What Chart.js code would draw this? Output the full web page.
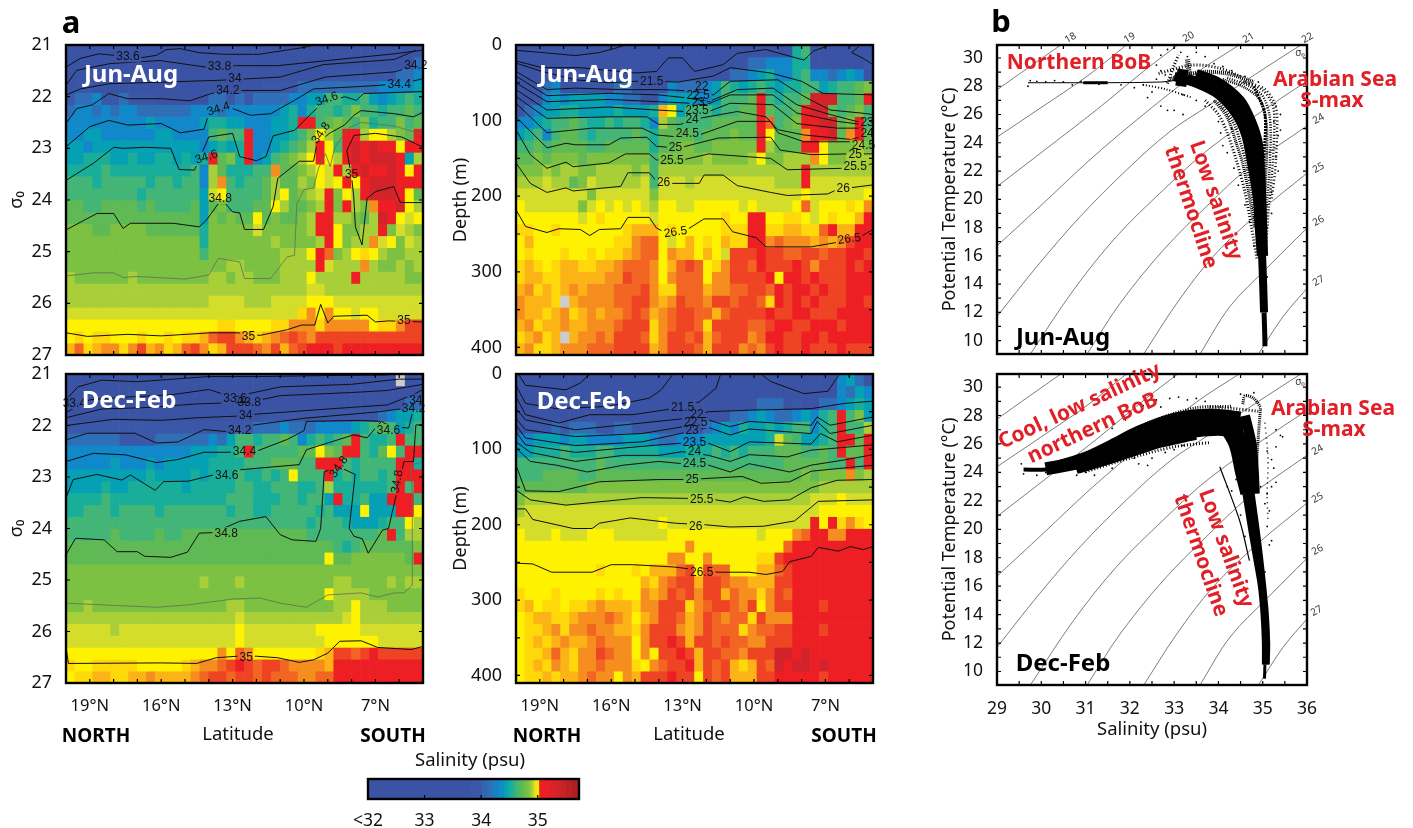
<!DOCTYPE html>
<html>
<head>
<meta charset="utf-8">
<title>Salinity sections</title>
<script src="https://cdn.jsdelivr.net/npm/chart.js@4/dist/chart.umd.min.js"></script>
<style>
  body { margin: 0; background: #fff; font-family: "Noto Sans", sans-serif; overflow: hidden; }
  canvas { position: absolute; }
  .note { position: absolute; white-space: nowrap; transform: translate(-50%, -50%); line-height: 1; }
</style>
</head>
<body>
<script>
// salinity level of each letter used in the section rows, x = no data
const levelCodes = { a: 33.0, b: 33.9, c: 34.1, d: 34.25, e: 34.4, f: 34.5, g: 34.6, h: 34.7, i: 34.8, j: 34.87,
  k: 34.92, l: 34.96, m: 35.0, n: 35.03, o: 35.06, p: 35.1, q: 35.14, r: 35.2, s: 35.35, x: null };

const sigmaJunRows = [
  "aaaaaaaaaa aaaaaaaaaa aaaaaaaaaa aaaaaaaaaa",
  "aaaaaaaaaa aaaaaaaaaa aaaaaaaaaa aaaaaaaaac",
  "aaaaaaaaaa aaaaaaaaaa aaaaaaaaab bbbbbbbccd",
  "abbaaaaaaa aaaaaaaaaa aabbbbcccc cccccdddde",
  "bccdbbcbbb aaaaaaccbc bccccddeeg gffgedefgf",
  "cddcdcddcc ccccdddcdd ddddefdfgg fgiggfgghg",
  "ddddddddde dddddeffee dddeefrrgh ihgifggigh",
  "ddeedddddd eeddddghgg rddeefgilj hrrjlljihr",
  "eedeeeeeee eeeeedefef rddefghjrl grsrsrrlrr",
  "eefffeefee ffefefrhif rdeghijlrl jrsrsssrej",
  "ffffgfffff ffffgdjhff fggohhijlk rjrsrrsrlr",
  "gggfgggggf ggfggdjogf gghjhhjilk lrlrsssrrr",
  "ggggggggfg gggggeklgg gghjlhijkr iljrsssrlh",
  "hhgghhhhgh gggghehigg ghhljhhijr irjiorrslj",
  "hhhhhhhhhh hhhhheihih hlhihhijrr jjihjsrlkl",
  "iiihhiiiih hhhhhfiiii ikiiiiijrr liijjrikji",
  "iiiiiiiiii iiiiifiiii iiijiiiijr lijjoklikj",
  "iiiiiiiiii iiiiigiiii iiiijjjlrp ijlmljiijj",
  "iiiiiiiiii iiiiiiiijj iiiijjjjrk jjjojiijij",
  "jiiiiiijii iiiiiijjij jiiijjjljj jjrjjjjjii",
  "jjjjjjjjjj jjjjjjjjjj jjjjjjjkkj jjjjjjjjjj",
  "jjjjjjjjjj jjjjjjkkkk jjjkkkklll kkkkkkkkkk",
  "kkkkkkkkkk kkkkkkkkkk kkkkkkmolo llkllkkkkk",
  "llllllllll lllllllmml lllmmooomo oooolmmoqq",
  "lmlmmlllml lmlmmnpqqo nmnopqpoqq qqqqqqqqqq",
  "npmnoomoqn omnpqomnqq qpoqnpqrrr qrrrrrrrrr"
];
const depthJunRows = [
  "aaaaaaaaaa aaaaaaaaaa aaaaaaaaaa afgaaaaaaa",
  "aaaaaaaaaa aaaaaaaaaa aaaaaaccdd dffaaaaaab",
  "aaaaaaaaaa aaaaaaaaaa aaaaccdefd dfgddcdeda",
  "aaacdaabbb bccaaaadcc cdegfefgfe ffggefgghi",
  "aabdedeeee ddccaadeee ddeggghrgf gghsssgghr",
  "acdeeffeee efeeefnleg ggfgghhrhg ghrsshghig",
  "ddefgghgff gfggfdjhgg gghhhhhrpg hirrsshirg",
  "efgdghhgfg ggghgfhhhh ghhhihhrlh hhorrshorh",
  "gghghhhhgg hhhhhfhhii hhiiiiirjh hhrrliiiji",
  "hhihiiihii iiiiigiiii ijiiiijlii jjjoliijjj",
  "iiijijjiij jjjijgjjjj jjjjjjjjjj jjrjjjjjjj",
  "jjjkjjhikj jjjjkgkkkj kkkkkkkkkj jjrkkkkkkk",
  "kkkkkkkkik kkkkkikkkk kkkkkkkkkk kklkkkkkkl",
  "lkkkkkkikl klklkjllkk lllllklkkk klpklllmlo",
  "lllllllklm lllllkllll lllmllrrll mmlklmllnr",
  "mmllmlllll llmnnnlmll lllmmmrrmm nnmmprnnrr",
  "lnllllllll lmmopplkln lmlnmmrrop ooononoqrr",
  "lmlllmllml mmnopplonn lnlkqqqrqq ppqqpqqrrq",
  "mnmlmnnmmn nopppolnpq plmoqqprqq qrqoqqqrqr",
  "mnnmmnnnnn ooqppolopp plooqqqqrl rrqrqqqrrr",
  "nomnmnonoo opppqommpp pnooppqqpr qrrqrqqrrr",
  "onnnmxnooo oppqqonoqp poqqpqqpmr qrqrqqqrrq",
  "onnmnomnon oopqpnopqq ppnpqqqqrq qrrqqqrrrr",
  "nomnnonnoo opqqqmopqq pmqqqqppqr rqqrrrqrrr",
  "mnomnxnoop oqqqpmoqqp qnpqqqoprr qqrrqrrrrr",
  "nommnooopp pqqqqnoqqq pnqqqopoqr qqrqqqrqqq"
];
const sigmaDecRows = [
  "aaaaaaaaaa aaaaaaaaaa aaaaaaaaaa aaaaaaaxaa",
  "aaaaaaaaaa aaaaaaaaaa aaaaaaaaaa aaaaaaaaaa",
  "aaaaaaaaaa aaaaaaaaaa aaaaaaaaaa aaaaaaaacc",
  "aaaaaaaaaa aaaaaaaaaa aabbbbbbbb bbbbbcdeef",
  "bbbbbbbbbb bbbbbbbbbb bcccdcccdd ddefghgefg",
  "ccccccbbbb ccccccdceg gfgghgdfgf ghrgffgrgg",
  "dddddddddd ddddeeeffg rggggghhli hrrgfhlgrr",
  "dddddeddde deeeeeffff ggghhhggrr rgfggggrrf",
  "eeeeeeeeef eeeefefffg ffgfglgggr fgfggfgrrr",
  "eeeefeefff fffefffffg gffgggffgj ffffffgrgr",
  "ffffgfffff ffffffffgg gfffggfgge rffgeerrrg",
  "ffgggfgggg fgggggggfg gffgggggfg eeeleeerrl",
  "gggggggggg gggggggggg gggggggfgg gfeeefgglj",
  "ggggghgggg hgghhhhhhh hhhhhhhggg ggggghrgjj",
  "hhhhhhhhhh hhhhhhhhhh hhhhhhhhhh gfghhhhhhi",
  "hhhhhhhhhh hhhhhhhhhh hhhhhhhhhl hhiiiiiihr",
  "iiiiiiiiii iiiiiiiiii iiiiiiiiii iiiiiiiiii",
  "iiiiiiiiii iiiiijiiij iiiiiiiiii jjiiiijijj",
  "iiiiiiiiii iiiiiiiiii iiiiiiiiil jjjjiiiiii",
  "iijiiiiiii iiiiiiiijj iiiiiiiiii jjljjjiiii",
  "jjjjjjjjjj jjjjjjjjjk jjjjjjjjjj jkljjjjjjj",
  "kkkkkjkkkk kkkkkkkkkl kkkkkkkkll lllkkkkkkk",
  "kkkkkkkkkk kkkkkkkkkl kkkkkkkkkl lllllkkkkk",
  "llllllllll lllllllolp olllllllmn qqpqrqqqqq",
  "mllmmmmmll lllmnoopqr qpqqpoooon rrrrrrrrrr",
  "lmmnnmmnno nnnnopqqpq qpqpppoopp rrrrrrrrrr"
];
const depthDecRows = [
  "aaaaaaaaaa aaaaaaaaaa aaaaaaaaaa aaaaaadeca",
  "aaaaaaaaaa aaaaaaaaaa aaaaaaaaaa aaaaaadced",
  "aaaaaaaaaa aaaaaaaaaa aaaaaaaccc abaaccdefe",
  "aaaaaaaaaa aaaaaaaaaa aaaaccdedc cdedfgrgie",
  "abbbcbcccb bccbbbbbbb bcdedfeefe fggdfgrggj",
  "ddeeedeedd ddeeedccdd deeeeeeefk hgeefgrrhr",
  "eefffgfffg gfffffeeef ffgfgfgggh hhgghgrhhr",
  "gggggggggh gggggggggg gggggggggg hhhhhggrgr",
  "ggghhhhggh hhhhhhhhhh hhhhhhhhhh hhihiiioij",
  "hhhhhhhhii iiiiiiiiii iiiiiiiiii iiiijjjjjj",
  "ijjjjjjjjj jjjjjjjjjj jjjjjjjjjj jjjkkklkkk",
  "jkkkkkkkkk kkkkkkkkkk kkkkkkkkkk kkkkllllll",
  "kkkkkkkkkk kkkkkklkkk kkkkkkkkkk kkkrlrmoml",
  "lkkklkkkll lkkkkkklll lllllllkll loprroorrr",
  "llllllllll lllllllllo llllllllll prrrrrrrrr",
  "llllllllll lllllllool lolllllmmq rrrrrrrrrr",
  "lllllllllm lllmlnnnpq lqpplllnnp qrrrrrrrrr",
  "llllllllll llllnmopqq nqqpoonnnq qrrrrrrrrr",
  "mlllmllllm lmllonoqpq oqqnpoomoq prrrrrrrrr",
  "mnlmmlmmno nnnmooqqqm opqqpoqloq qrrrqrrrrr",
  "lmnnmmnooo ponlnoqqpn oqpoppmqoo orrrrrrrrr",
  "lmmnomoopo onnmoqqqon oqpppmoppq qrrrqrrrrr",
  "lmnmnonnop oooloqqrqn qqpqppooqq qrrrrrrrrr",
  "lmmnpnmooq poololqqrq nqqppoqqqs srsrrrrrrr",
  "lmnmonmoop ooomlopqqr nqpqnmnqps rssrsrrrrr",
  "lmmnmnnopo olonqqqrqq lqpqnnnqqr rrrrqrrrrr"
];

// contours: latitude, sigma-0 or depth
const sigmaJunContours = [
  [[20,21.43],[19.4,21.26],[18.6,21.17],[18,21.2],[16.9,21.25],[16.2,21.2],[15.8,21.09],[15.2,21.07],[14.4,21.15],[13.3,21.18],[11.9,21.18],[9.9,21.04],[9.6,21]],
  [[20,21.78],[19.55,21.49],[18.15,21.36],[16.05,21.3],[14.1,21.43],[12.9,21.4],[11.1,21.4],[9,21.3],[6.2,21.17],[5,21.1]],
  [[20,21.97],[19.4,21.85],[18.2,21.75],[16,21.72],[13.4,21.68],[11,21.62],[9.2,21.38],[6.2,21.28],[5.3,21.1]],
  [[20,22.52],[19.55,22.23],[18.9,22.16],[18.2,21.94],[17.4,22.04],[16,22.04],[14.8,22.08],[13.9,21.94],[13.1,21.88],[11,21.88],[9.1,21.62],[6.2,21.52],[5,21.36]],
  [[20,22.97],[19,22.58],[18.2,22.46],[17.4,22.55],[16,22.52],[15.2,22.7],[14.2,22.63],[14,22.33],[13,22.23],[12.25,22.36],[11.4,22.33],[10.4,22.07],[9.6,21.85],[7.9,21.81],[6.8,21.78],[5.6,21.72],[5,21.65]],
  [[20,23.62],[18.85,23.29],[18,22.98],[17.6,23],[16.7,22.98],[15.6,23],[15.25,23.41],[14.6,23.42],[14,22.78],[13,22.71],[12.7,23.16],[12,23.24],[11.6,23.16],[11.3,22.76],[10.4,22.65],[9.7,22.33],[9.4,22.2],[8.3,22],[7.8,22.07],[7.5,21.94],[5,21.9]],
  [[20,24.58],[18.7,24.26],[18,24.26],[17.6,24.55],[17.3,24.45],[15.5,24.45],[14.4,24.52],[14.1,24.39],[13.6,24.07],[13.3,24.07],[13,24.23],[12.7,24.25],[12.5,24.57],[11.7,24.57],[11.3,24.13],[11.1,23.58],[10.2,23.25],[9.6,23.25],[9.45,22.9],[8.9,22.7],[8.3,22.55],[7.9,22.36],[7.6,22.27],[6.2,22.33],[5.4,22.39],[5,22.3]],
  [[5,22.98],[5.9,22.78],[7,22.71],[7.9,22.75],[8.2,23.04],[8,23.55],[7.91,23.94],[7.84,24.52],[7.56,24.87],[7.35,23.97],[7,23.84],[6.23,23.74],[5.95,24.05],[5,24.05]],
  [[20,26.57],[19.1,26.64],[17.4,26.6],[16,26.63],[13.9,26.57],[12.8,26.57],[11.85,26.62],[10.7,26.51],[10.1,26.42],[9.55,26.42],[9.3,26.02],[9,26.38],[8.75,26.25],[7.35,26.23],[7,26.36],[6.45,26.34],[5,26.36]]
];
const sigmaJunFaint = [
  [[20,25.47],[18.85,25.41],[18,25.41],[17.6,25.5],[17,25.48],[15,25.53],[14,25.45],[13.6,25.13],[12.7,25.2],[12.5,25.52],[11.4,25.52],[10.7,25.1],[10.4,25.07],[10.3,24.07],[10,23.8],[9.6,23.77],[9.4,23.4],[9.1,23.1],[8.9,23.35],[8.7,22.97],[8.1,22.6],[7.6,22.5],[6.2,22.57],[5,22.73]]
];
const sigmaJunLabels = [["33.6",17.4,21.22],["33.8",13.55,21.41],["34",12.9,21.64],["34.2",13.2,21.88],["34.4",13.6,22.23,-18],["34.4",6,21.75],["34.2",5.3,21.39],["34.6",14.1,23.16,-18],["34.6",9.05,22.04,-18],["34.8",13.52,23.96],["34.8",9.3,22.7,-55],["35",8,23.5],["35",12.33,26.63],["35",5.8,26.33]];

const depthJunContours = [
  [[20,7],[18.9,10],[17.5,14],[16.5,10],[15.8,4],[15.4,0]],
  [[20,21],[18.9,30],[17.3,30],[15,37],[14.1,35],[13.6,17],[13,17],[12.5,35],[11.3,26],[10.7,11],[9.5,6],[7.9,20],[7.5,8],[6.8,0]],
  [[5.6,2],[5.9,10],[5.4,18],[5,26]],
  [[20,24],[18.9,35],[17.5,46],[16.1,50],[15,48],[14.05,48],[13.2,49],[11.7,41],[11,30],[9.3,37],[8,48],[7.1,64],[5,66]],
  [[20,35],[18.7,59],[17.5,57],[15.6,59],[13.8,59],[12.6,61],[11.7,66],[11,48],[9,46],[7.9,68],[6.8,86],[5.5,90],[5,92]],
  [[20,41],[18.7,67],[16.1,64],[14,66],[12.8,70],[11.9,75],[10.7,59],[9.2,57],[8.2,79],[6.8,92],[5.7,101],[5,101]],
  [[20,50],[18.7,75],[16.1,72],[14,75],[12.7,77],[12,79],[11,66],[9.2,66],[8.2,90],[6.5,101],[5.5,105],[5,105]],
  [[20,59],[18.7,86],[16.1,82],[14.1,86],[12.9,88],[11.9,88],[11,77],[9.2,79],[8.2,104],[6.5,110],[5.5,110],[5,112]],
  [[20,68],[18.7,97],[16.1,95],[14.5,95],[14,105],[13.1,105],[12.3,97],[10.7,88],[9.5,95],[9,112],[7.9,119],[5.9,125],[5.5,121],[5,121]],
  [[20,77],[18.7,116],[16.8,110],[14.7,110],[14.1,119],[13.4,121],[12.3,119],[10.7,101],[9.3,101],[9,116],[7.9,128],[5.95,128],[5,133]],
  [[20,95],[18.7,136],[17.9,130],[17.5,132],[16.1,132],[15.6,123],[14.5,122],[14.1,134],[13.7,135],[13,135],[11.5,123],[9.3,122],[8.9,139],[7.6,145],[6,144],[5,144]],
  [[20,112],[19.4,145],[18.7,163],[17.9,155],[17.6,161],[16.1,156],[15.4,144],[14.4,144],[14.1,152],[13,152],[11.9,144],[9.3,150],[8.6,165],[6.2,163],[5,157]],
  [[20,156],[19.4,183],[18.7,195],[17.9,189],[17.6,193],[15.6,187],[15.3,169],[14.4,169],[14.1,180],[13.5,183],[12.3,183],[12.1,172],[11.3,172],[10.7,186],[9.3,195],[8.6,199],[6.9,197],[6.5,191],[5,185]],
  [[20,218],[19.6,240],[18.7,248],[18.2,243],[17.3,244],[16.9,252],[16.5,244],[15.6,243],[15.3,228],[14.4,228],[14.1,242],[13.8,247],[12.8,244],[12.1,230],[11.3,230],[10.9,247],[9.9,255],[9.5,267],[7.6,267],[6.5,261],[5.5,253],[5,244]]
];
const depthJunLabels = [["21.5",14.3,48],["22",12.2,55],["22.5",12.35,66],["23",12.35,75],["23.5",12.4,86],["24",12.6,98],["24.5",12.8,116],["25",13.3,135],["25.5",13.45,153],["26",13.8,182],["26.5",13.3,247,-8],["26",6.25,189],["26.5",6,256,-8],["25.5",5.75,160],["25",5.75,145],["24.5",5.4,133],["24",5.25,117],["23",5.25,102]];

const sigmaDecContours = [
  [[20,21.5],[19.5,21.25],[18.5,21.12],[17,21.15],[15.5,21.1],[14,21.05],[12,21.05],[9,21.03],[6.5,21.02]],
  [[20,21.75],[19,21.5],[17.5,21.45],[15.5,21.4],[14,21.3],[13,21.45],[11,21.25],[8,21.2],[6,21.1],[5,21.1]],
  [[20,21.85],[18.5,21.68],[16.5,21.65],[14.5,21.58],[12.3,21.55],[11,21.42],[8,21.36],[6.5,21.32],[5,21.2]],
  [[20,22],[18,21.88],[16,21.9],[14.5,21.85],[12.9,21.82],[12,21.78],[9,21.68],[6.5,21.6],[5.4,21.4],[5,21.3]],
  [[20,22.28],[19.1,22.15],[17.1,22.15],[16.2,22.34],[15.3,22.32],[14.2,22.08],[13.2,22.12],[12.1,21.99],[10,21.86],[7,21.74],[5.6,21.66],[5.2,21.5]],
  [[20,22.7],[18.85,22.54],[17.5,22.57],[16.2,22.72],[15.3,22.66],[14.2,22.52],[13.1,22.52],[12,22.5],[10.7,22.27],[10,22.1],[9.9,21.92],[7.6,21.9],[6.8,21.92]],
  [[20,23.41],[19.7,23.05],[18.7,22.95],[17.65,23.06],[17.3,22.96],[16.25,23.26],[15.9,23.09],[14.85,23.08],[13.8,22.96],[12.7,22.86],[10.2,22.76],[9.9,22.47],[7.9,22.18],[7.35,22.24],[6.75,21.92],[6.35,22.02],[5.6,22.05],[5.4,21.66]],
  [[20,24.51],[19.6,24.19],[18.4,24.22],[17.85,24.45],[17,24.45],[16.7,24.54],[15.6,24.56],[14.9,24.46],[14.4,24.09],[13.8,24.08],[12.7,23.86],[11.6,23.77],[11,24.12],[10.5,24.22],[9.5,24.25],[9.3,24],[9.15,22.9],[8.55,22.8],[7.85,22.95],[8.1,24],[7.9,24.15],[7.55,24.2],[7.3,24.48],[6.7,24.03],[6.45,24],[6.1,23.3],[5.8,22.7],[5.4,22.7],[5.3,21.99],[5,21.98]],
  [[20,26.3],[19.9,26.62],[16,26.61],[14.5,26.62],[13.7,26.51],[12.8,26.48],[12,26.48],[11.1,26.51],[10.2,26.6],[9.6,26.55],[9,26.42],[8.5,26.19],[7.6,26.18],[6.9,26.31],[5.5,26.35],[5,26.29]]
];
const sigmaDecFaint = [
  [[20,25.45],[16.2,25.53],[14.8,25.48],[13,25.37],[11.85,25.35],[11,25.45],[9.9,25.53],[9,25.29],[7.6,25.25],[6.9,25.33],[6.2,25.25],[5.8,25.25],[5.45,25.1],[5.45,23.4],[5.5,22.77],[5,22.7]]
];
const sigmaDecLabels = [["33.4",19.65,21.57],["33.6",12.9,21.47],["33.8",12.3,21.54],["34",12.45,21.8],["34.2",12.7,22.1],["34.4",12.5,22.49],["34.6",13.25,22.96],["34.6",6.45,22.09],["34",5.3,21.5],["34.2",5.4,21.66],["34.8",13.27,24.09],["34.8",8.55,22.8,-55],["34.8",6.1,23.09,-80],["35",12.43,26.5]];

const depthDecContours = [
  [[19.9,0],[19.6,15],[17.9,21],[17.3,12],[16.9,0]],
  [[20,15],[19.6,39],[18.3,46],[16.1,43],[14.4,32],[13.9,21],[13.4,0]],
  [[9.7,0],[9.3,10],[7.9,26],[6.9,23],[6.4,0]],
  [[20,30],[19.6,54],[18.2,65],[16.9,54],[15.1,54],[13.4,46],[12.3,37],[11.6,19],[11.4,0]],
  [[20,46],[19.6,61],[17.5,74],[14.7,65],[12.85,59],[11.9,50],[10.2,48],[7.6,46],[6.2,39],[5,36]],
  [[20,59],[19.6,74],[17.5,83],[14.7,79],[13,70],[11.9,61],[11,70],[10.2,63],[7.6,68],[7.35,57],[6.8,68],[5,57]],
  [[20,68],[19.6,85],[17.5,95],[14.7,90],[13.1,79],[11.9,71],[11,81],[10.2,73],[7.6,79],[7.35,63],[6.8,79],[5,68]],
  [[20,77],[19.6,94],[17.5,104],[14.7,96],[13.2,92],[11.9,92],[11,103],[10.2,90],[7.6,93],[7.2,79],[6.5,90],[5,81]],
  [[20,90],[19.4,104],[17.5,116],[15.5,108],[14,108],[13,103],[11.9,108],[11,116],[10.2,107],[8.6,110],[7.6,101],[6.8,99],[5,94]],
  [[20,98],[19.4,116],[18.3,121],[17,130],[15.5,121],[14,116],[13,119],[11.9,121],[11,130],[10.2,119],[8.5,130],[7.6,121],[6.2,114],[5,107]],
  [[20,121],[19.6,155],[18.2,156],[16.5,143],[14,140],[13,140],[12.2,139],[10.5,136],[9.7,145],[8.5,143],[7.6,129],[6,124],[5,121]],
  [[20,154],[19.4,167],[17.9,174],[14.7,164],[12.85,165],[11.6,167],[11,170],[10.4,163],[9.6,169],[8.5,167],[7.6,151],[6.5,141],[5,140]],
  [[20,179],[19.6,179],[19.3,193],[17.6,205],[16.8,205],[16.5,198],[15.2,191],[13.3,198],[12.05,200],[11,203],[9.6,202],[8.3,195],[7.3,169],[5,167]],
  [[20,251],[19.3,252],[18.5,263],[16.8,263],[16,253],[15.1,253],[13.4,256],[11.5,263],[10.2,263],[9.5,266],[8.8,262],[8.5,249],[7.6,242],[7.3,230],[6.45,235],[5.95,229],[5.4,233],[5,229]]
];
const depthDecLabels = [["21.5",13,44],["22",12.4,53],["22.5",12.45,64],["23",12.6,74],["23.5",12.5,90],["24",12.5,103],["24.5",12.5,119],["25",12.6,140],["25.5",12.2,166],["26",12.45,202],["26.5",12.2,263]];

// T-S panels: salinity, potential temperature
const isopycnals = [
  [[29,27.75],[29.75,29.41],[30.45,30.94]],
  [[29,24.4],[29.98,26.46],[31.03,28.7],[31.93,30.94]],
  [[29,20.9],[30.13,23.62],[31.25,26.34],[32.31,29.06],[33.09,30.94]],
  [[29,16.7],[30.05,19.73],[31.1,22.8],[32.16,25.63],[33.5,28.94],[34.48,30.94]],
  [[29,11.7],[29.9,15.24],[30.88,18.78],[31.93,22.09],[32.91,24.81],[33.81,26.69],[34.82,28.82],[35.87,30.94]],
  [[29.75,9.03],[30.73,13.59],[31.7,17.37],[32.76,20.67],[33.81,23.62],[35.31,26.93],[36,28.35]],
  [[31.03,9.03],[31.78,12.64],[32.76,16.42],[33.73,19.49],[34.71,22.33],[36,25.2]],
  [[32.31,9.03],[33.06,12.64],[33.88,15.95],[34.9,19.02],[36,21.85]],
  [[33.58,9.03],[34.26,12.41],[35.09,15.12],[36,17.96]],
  [[34.9,9.03],[35.46,11.7],[36,13.7]]
];
const junProfiles = [
  [[33,28.7],[33.5,28.2],[34,27.4],[34.4,26],[34.62,24.5],[34.78,22],[34.88,20],[34.92,18],[34.97,16]],
  [[33.5,28.9],[34,28.3],[34.5,27],[34.75,25.5],[34.9,24],[34.95,22],[34.98,20],[35,18],[35.02,16]],
  [[33.3,28.6],[33.8,28],[34.3,26.9],[34.6,25.5],[34.77,24],[34.88,22],[34.94,20],[34.96,18],[35,16]],
  [[34.98,16.5],[35.01,14],[35.03,12]],
  [[35.03,12],[35.05,10],[35.05,9.6]],
  [[34.1,28.5],[34.6,27.9],[34.95,27],[35.08,25.5],[35.1,24],[35.08,22],[35.05,20],[35.03,18]],
  [[34.2,28.6],[34.7,28],[35,27.3],[35.15,26],[35.18,24.5],[35.15,22],[35.1,20],[35.06,18]],
  [[34.5,28.4],[35,27.7],[35.24,26.5],[35.25,24],[35.2,21.5],[35.14,19.5],[35.08,17]],
  [[34.6,28.3],[35.05,27.8],[35.3,26.5],[35.32,24.5],[35.28,22],[35.2,20]],
  [[34.8,28],[35.05,26],[35.03,23],[35.03,21],[35.02,18]],
  [[33.7,27],[34,26],[34.2,24.7],[34.42,22.6],[34.6,20.5],[34.75,18],[34.87,15.8]],
  [[33.9,27],[34.2,25.8],[34.4,24],[34.55,22.5],[34.68,20.5],[34.82,18]],
  [[34,26.9],[34.33,25.5],[34.5,24],[34.63,22.5],[34.75,20.5],[34.86,18]],
  [[33.15,28],[33.2,29.2]],
  [[32.85,28.2],[33,29.5],[33.1,30.2]],
  [[33.35,28.7],[33.3,29.9]],
  [[32.65,28.9],[33.4,29.5],[34,29.3],[34.5,28.7]],
  [[32.9,28.5],[33.6,29],[34.2,28.9],[34.8,28.3]],
  [[29.7,28.25],[30.5,28.25],[31.5,28.25],[32.7,28.3],[33,28.4]],
  [[30.95,28.25],[31.5,28.25]],
  [[32.3,28.1],[32.8,27.8],[33.4,27.2]]
];
const junWidths = [9, 9, 8, 8, 5, 2.5, 2.5, 2.5, 2.5, 3, 3, 3, 3, 11, 3, 5, 3, 4, 1, 3, 2];
const junDashes = [[], [], [], [], [], [1,1], [1,1.5], [1,2], [1,2.5], [2,1], [1,2], [1,1], [1,1.5], [], [1,2], [1,1], [1,2], [1,1], [], [], [1,2]];
const junStrays = [[29.7,28],[29.75,28.4],[29.9,28.35],[30.1,28.3],[30.3,28.4],[30.5,28.3],[30.7,28.1],[30.9,28.35],[31.3,28.15],[31.8,28.1],[32.1,27.9],[32.3,28.1],[32.5,27.6],[32.6,28.5],[32.7,26.6],[32.85,26.3],[33,26.3],[33.2,26],[32.4,27.2],[32.6,29.5],[32.7,30.2],[32.85,30.6],[33,30.7],[33.15,30.4],[33.3,30.1],[33.5,30.4],[33.7,30.1],[33.9,29.6],[34.1,29.4],[34.3,29.1],[34.6,28.7],[34.9,28.3],[35.3,26.6],[35.4,26],[35.35,24.5],[35.4,24.9],[35.3,23],[35.35,22],[35.2,20.5],[35.2,19],[35.1,18],[35.1,14.5],[35.25,25.5],[34,25.5],[34.05,24.7],[34.1,23.8],[34.2,23.3],[34.35,22.2],[34.45,21],[34.6,19.6],[34.7,18.4],[34.8,16.7],[34.3,25],[32.8,28.8],[32.7,29.1],[33.2,27.4],[33.5,27],[33.7,26.6]];

const decProfiles = [
  [[30.3,24.4],[31,25.05],[31.6,25.95],[32.2,26.9],[33,27.8],[33.8,28.1],[34.5,27.9]],
  [[30.1,24.25],[31,24.8],[31.8,25.75],[32.5,26.6],[33.2,27.3],[34,27.5],[34.6,27.4]],
  [[31,24.5],[31.8,25.4],[32.6,26.2],[33.3,26.8],[34,27],[34.5,26.8]],
  [[30.8,24.1],[31.4,24.65],[32,25.25],[32.7,25.95],[33.5,26.5]],
  [[29.6,24.2],[30.1,24.2],[30.8,24.6]],
  [[30.5,24.75],[31.5,26.05],[32.5,27.6],[33.5,28.55],[34.3,28.65]],
  [[31,24.05],[32,25],[33,25.8],[33.8,26.1]],
  [[33.8,28.6],[34.3,28.5],[34.9,28.3]],
  [[34.55,28.8],[34.6,29.4],[34.8,29.2],[34.95,28.6]],
  [[34,27.8],[34.35,26],[34.5,24],[34.62,22.5]],
  [[34.3,27.8],[34.55,26],[34.68,24],[34.74,22.5]],
  [[34.6,28],[34.75,26],[34.8,24],[34.82,22.5]],
  [[34.62,22.5],[34.75,20],[34.86,18],[34.97,16],[35.03,14],[35.06,12],[35.06,10.5]],
  [[34.74,22.5],[34.85,20],[34.93,18],[35,16],[35.06,14],[35.09,12],[35.08,10.5]],
  [[34.95,28.5],[34.9,26.5],[34.85,24]],
  [[35.05,10.5],[35.04,9.5]],
  [[34.03,24.4],[34.48,20.6],[34.7,17.8]],
  [[35.05,27.5],[35.12,25],[35.1,22.5],[35.12,20.5]]
];
const decWidths = [11, 13, 12, 6, 4, 3, 3, 3, 3, 11, 11, 10, 7, 7, 3, 3, 1.2, 1.5];
const decDashes = [[], [], [], [], [], [1,1.5], [1,2], [1,2], [1,1], [], [], [], [], [], [1,1], [], [], [1,4]];
const decStrays = [[32.6,29.1],[32.9,29.2],[33.1,29.3],[33.3,29.1],[33.5,29.2],[33.7,29],[32.3,28.7],[31.9,27.7],[31.6,27.1],[32.2,24.6],[32.4,24.5],[32.1,25],[32.5,25],[32.8,25.4],[33,25.6],[33.2,25.9],[31.6,24.3],[31.2,23.8],[34.4,23.5],[34.3,22.7],[34.2,23],[34.5,21],[34.6,19.5],[35.1,25.5],[35.2,24.9],[35.3,25.8],[35.4,26.6],[35.2,23],[35.1,22.5],[35.15,21.3],[35.1,20.2],[35.15,18.9],[35.2,19.2],[35.05,17],[35.3,27],[35.45,26.5],[35.25,24.3],[35.3,23.3],[34.95,23],[35.05,21.8],[29.55,24.6],[29.6,23.9],[29.9,23.8],[30.1,24],[30.8,23.8],[31,24],[32.7,28.6],[34.5,29.5],[34.8,29.6]];

// colour bar bins and the colour scale behind everything
const barEdges = [32,33.8,34,34.1,34.2,34.3,34.4,34.45,34.5,34.55,34.6,34.65,34.7,34.75,34.8,34.85,34.9,34.94,34.98,35.02,35.1,35.2,35.3,35.4,35.5,35.6,35.73];
const barSalinity = [33,33.9,34.02,34.1,34.2,34.28,34.4,34.45,34.5,34.55,34.6,34.65,34.7,34.75,34.8,34.85,34.9,34.94,34.97,35.2,35.22,35.28,35.36,35.44,35.53,35.65];
const stopSalinity = [33,33.9,34.1,34.25,34.4,34.5,34.6,34.7,34.8,34.87,34.92,34.96,35,35.03,35.06,35.1,35.14,35.2,35.35,35.7];
const stopColors = ["#3b53a4","#3b57a7","#2f6fb7","#1188c9","#06a0b4","#19ae9a","#43b576","#5fb954","#7cc142","#a8cf38","#d4dd2a","#fff200","#ffd80a","#fcb316","#f68d1f","#f26522","#ef4423","#ed1f24","#d2232a","#a61e22"];

const latTickLabels = [19, 16, 13, 10, 7];
const latMinorTicks = [20,19,18,17,16,15,14,13,12,11,10,9,8,7,6,5];
const sigmaTicks = [21, 22, 23, 24, 25, 26, 27];
const depthTicks = [0, 100, 200, 300, 400];
const depthMinorTicks = [50, 100, 150, 200, 250, 300, 350, 400];
const salinityTicks = [29, 30, 31, 32, 33, 34, 35, 36];
const salinityMinorTicks = [29.5,30,30.5,31,31.5,32,32.5,33,33.5,34,34.5,35,35.5];
const tempTicks = [10, 12, 14, 16, 18, 20, 22, 24, 26, 28, 30];
const tempMinorTicks = [10,11,12,13,14,15,16,17,18,19,20,21,22,23,24,25,26,27,28,29,30];

const FONT = '"Noto Sans", sans-serif';

function hexToRgb(h) {
  return [1, 3, 5].map((i) => parseInt(h.substr(i, 2), 16));
}

function salinityColor(s) {
  if (s === null) return "#cccccc";
  if (s <= stopSalinity[0]) return stopColors[0];
  for (let i = 1; i < stopSalinity.length; i++) {
    if (s <= stopSalinity[i]) {
      const t = (s - stopSalinity[i - 1]) / (stopSalinity[i] - stopSalinity[i - 1]);
      const a = hexToRgb(stopColors[i - 1]);
      const b = hexToRgb(stopColors[i]);
      return `rgb(${a.map((v, k) => Math.round(v + (b[k] - v) * t)).join(",")})`;
    }
  }
  return stopColors[stopColors.length - 1];
}

function toPoints(pairs) {
  return pairs.map(([x, y]) => ({ x, y }));
}

function fixTicks(list) {
  return (scale) => {
    scale.ticks = list.map((value) => ({ value }));
  };
}

// keeps the plot box where it should be, whatever the labels ask for
function pinAxis(key, size) {
  return (s) => {
    s[key] = size;
    s.paddingTop = s.paddingBottom = s.paddingLeft = s.paddingRight = 0;
  };
}

// frame and inward ticks on all four sides
const framePlugin = {
  id: "frame",
  afterDraw(chart, args, opts) {
    const { ctx, chartArea: a, scales } = chart;
    const xs = scales[opts.xAxis];
    const ys = scales.y;
    ctx.save();
    ctx.strokeStyle = "#000";
    ctx.lineWidth = 1.2;
    ctx.beginPath();
    opts.xTicks.forEach((v) => {
      const p = xs.getPixelForValue(v);
      if (!opts.noTop) {
        ctx.moveTo(p, a.top);
        ctx.lineTo(p, a.top + 4);
      }
      ctx.moveTo(p, a.bottom);
      ctx.lineTo(p, a.bottom - 4);
    });
    opts.yTicks.forEach((v) => {
      const p = ys.getPixelForValue(v);
      ctx.moveTo(a.left, p);
      ctx.lineTo(a.left + 4, p);
      ctx.moveTo(a.right, p);
      ctx.lineTo(a.right - 4, p);
    });
    ctx.stroke();
    ctx.lineWidth = 2.4;
    ctx.strokeRect(a.left, a.top, a.right - a.left, a.bottom - a.top);
    ctx.restore();
  },
};

// contour labels: the lines get clipped around each label so they look broken
function labelBox(chart, ctx, [text, lat, val, rot]) {
  const x = chart.scales.xl.getPixelForValue(lat);
  const y = chart.scales.y.getPixelForValue(val);
  const w = ctx.measureText(text).width / 2 + 2;
  const h = 6;
  const r = ((rot || 0) * Math.PI) / 180;
  const c = Math.cos(r), s = Math.sin(r);
  return { x, y, r, corners: [[-w, -h], [w, -h], [w, h], [-w, h]].map(([a, b]) => [x + a * c - b * s, y + a * s + b * c]) };
}

const contourLabelPlugin = {
  id: "contourLabels",
  beforeDatasetDraw(chart, args, opts) {
    if (args.meta.type !== "line") return;
    const { ctx, chartArea: a } = chart;
    ctx.save();
    ctx.font = "12px 'Liberation Sans'";
    ctx.beginPath();
    ctx.rect(a.left, a.top, a.right - a.left, a.bottom - a.top);
    opts.labels.forEach((l) => {
      const { corners } = labelBox(chart, ctx, l);
      ctx.moveTo(corners[0][0], corners[0][1]);
      corners.slice(1).forEach((p) => ctx.lineTo(p[0], p[1]));
      ctx.closePath();
    });
    ctx.clip("evenodd");
  },
  afterDatasetDraw(chart, args) {
    if (args.meta.type === "line") chart.ctx.restore();
  },
  afterDatasetsDraw(chart, args, opts) {
    const { ctx } = chart;
    ctx.save();
    ctx.font = "12px 'Liberation Sans'";
    ctx.textAlign = "center";
    ctx.textBaseline = "middle";
    ctx.fillStyle = "#111";
    opts.labels.forEach((l) => {
      const { x, y, r } = labelBox(chart, ctx, l);
      ctx.save();
      ctx.translate(x, y);
      ctx.rotate(r);
      ctx.fillText(l[0], 0, 0.5);
      ctx.restore();
    });
    ctx.restore();
  },
};

function addCanvas(left, top, w, h) {
  const c = document.createElement("canvas");
  c.width = w;
  c.height = h;
  c.style.left = left + "px";
  c.style.top = top + "px";
  c.style.width = w + "px";
  c.style.height = h + "px";
  document.body.appendChild(c);
  return c;
}

function contourSet(pairs, color, width) {
  return {
    type: "line",
    xAxisID: "xl",
    yAxisID: "y",
    order: 1,
    data: toPoints(pairs),
    borderColor: color,
    borderWidth: width,
    pointRadius: 0,
    tension: 0,
  };
}

function section({ box, rows, contours, faint, labels, min, max, yTicks, yMinor, yTitle, showX, padL }) {
  const padT = 12, padR = 6, padB = showX ? 40 : 12;
  const canvas = addCanvas(box[0] - padL, box[1] - padT, box[2] + padL + padR, box[3] + padT + padB);
  const grid = rows.map((r) => r.replace(/ /g, "").split("").map((k) => levelCodes[k]));
  const step = (max - min) / grid.length;
  const colLabels = grid[0].map((v, i) => i);

  const datasets = grid.map((cells, r) => ({
    type: "bar",
    xAxisID: "xc",
    yAxisID: "y",
    order: 2,
    grouped: false,
    barPercentage: 1,
    categoryPercentage: 1,
    borderSkipped: false,
    backgroundColor: cells.map(salinityColor),
    data: cells.map(() => [min + r * step, min + (r + 1) * step]),
  }));
  contours.forEach((c) => datasets.push(contourSet(c, "#111", 1)));
  (faint || []).forEach((c) => datasets.push(contourSet(c, "#5f6f55", 0.8)));

  new Chart(canvas, {
    data: { labels: colLabels, datasets },
    plugins: [framePlugin, contourLabelPlugin],
    options: {
      responsive: false,
      animation: false,
      layout: { padding: { top: padT, right: padR, bottom: showX ? 0 : padB } },
      plugins: {
        legend: { display: false },
        tooltip: { enabled: false },
        frame: { xAxis: "xl", xTicks: latMinorTicks, yTicks: yMinor },
        contourLabels: { labels },
      },
      scales: {
        xc: { type: "category", display: false, offset: true },
        xl: {
          type: "linear",
          position: "bottom",
          min: 5,
          max: 20,
          reverse: true,
          display: showX,
          grid: { display: false },
          border: { display: false },
          afterBuildTicks: fixTicks(latTickLabels),
          afterFit: pinAxis("height", showX ? padB : 0),
          ticks: {
            color: "#111",
            padding: 5,
            maxRotation: 0,
            autoSkip: false,
            font: { family: FONT, size: 16.5 },
            callback: (v) => v + "°N",
          },
        },
        y: {
          type: "linear",
          reverse: true,
          min,
          max,
          grid: { display: false },
          border: { display: false },
          afterBuildTicks: fixTicks(yTicks),
          afterFit: pinAxis("width", padL),
          ticks: { color: "#111", padding: 6, autoSkip: false, font: { family: FONT, size: 18 } },
          title: { display: true, text: yTitle, color: "#111", font: { family: FONT, size: 18 }, padding: 0 },
        },
      },
    },
  });
}

function tsPanel({ box, profiles, widths, dashes, strays, showX }) {
  const padL = 58, padT = 12, padR = 14, padB = showX ? 60 : 12;
  const canvas = addCanvas(box[0] - padL, box[1] - padT, box[2] + padL + padR, box[3] + padT + padB);
  const datasets = isopycnals.map((c) => ({
    data: toPoints(c),
    showLine: true,
    borderColor: "#444",
    borderWidth: 0.7,
    pointRadius: 0,
    tension: 0.35,
    order: 3,
  }));
  profiles.forEach((p, i) => {
    datasets.push({
      data: toPoints(p),
      showLine: true,
      borderColor: "#000",
      borderWidth: widths[i],
      borderDash: dashes[i],
      borderJoinStyle: "round",
      borderCapStyle: "butt",
      pointRadius: 0,
      tension: 0.3,
      order: 1,
    });
  });
  datasets.push({ data: toPoints(strays), pointRadius: 0.9, pointBorderWidth: 0, pointBackgroundColor: "#000", order: 1 });

  new Chart(canvas, {
    type: "scatter",
    data: { datasets },
    plugins: [framePlugin],
    options: {
      responsive: false,
      animation: false,
      layout: { padding: { top: padT, right: padR, bottom: showX ? 0 : padB } },
      plugins: {
        legend: { display: false },
        tooltip: { enabled: false },
        frame: { xAxis: "x", xTicks: salinityMinorTicks, yTicks: tempMinorTicks },
      },
      scales: {
        x: {
          type: "linear",
          min: 29,
          max: 36,
          display: showX,
          grid: { display: false },
          border: { display: false },
          afterBuildTicks: fixTicks(salinityTicks),
          afterFit: pinAxis("height", showX ? padB : 0),
          ticks: { color: "#111", padding: 6, maxRotation: 0, autoSkip: false, font: { family: FONT, size: 17.5 } },
          title: { display: showX, text: "Salinity (psu)", color: "#111", font: { family: FONT, size: 18.5 }, padding: { top: 2, bottom: 4 } },
        },
        y: {
          type: "linear",
          min: 9.05,
          max: 30.92,
          grid: { display: false },
          border: { display: false },
          afterBuildTicks: fixTicks(tempTicks),
          afterFit: pinAxis("width", padL),
          ticks: { color: "#111", padding: 6, autoSkip: false, font: { family: FONT, size: 17.5 } },
          title: { display: true, text: "Potential Temperature (°C)", color: "#111", font: { family: FONT, size: 18 }, padding: 0 },
        },
      },
    },
  });
}

function colorBar() {
  const box = [368, 779, 211, 20];
  const canvas = addCanvas(box[0] - 30, box[1] - 6, box[2] + 40, box[3] + 6 + 40);
  const datasets = barSalinity.map((s, i) => ({
    data: [[barEdges[i], barEdges[i + 1]]],
    backgroundColor: salinityColor(s),
    grouped: false,
    barPercentage: 1,
    categoryPercentage: 1,
    borderSkipped: false,
  }));
  new Chart(canvas, {
    type: "bar",
    data: { labels: ["salinity"], datasets },
    plugins: [framePlugin],
    options: {
      indexAxis: "y",
      responsive: false,
      animation: false,
      layout: { padding: { top: 6, right: 10, left: 30 } },
      plugins: {
        legend: { display: false },
        tooltip: { enabled: false },
        frame: { xAxis: "x", xTicks: [33, 34, 35], yTicks: [], noTop: true },
      },
      scales: {
        x: {
          type: "linear",
          min: 32,
          max: 35.73,
          grid: { display: false },
          border: { display: false },
          afterBuildTicks: fixTicks([32, 33, 34, 35]),
          afterFit: pinAxis("height", 40),
          ticks: {
            color: "#111",
            padding: 4,
            autoSkip: false,
            maxRotation: 0,
            font: { family: FONT, size: 17.5 },
            callback: (v) => (v === 32 ? "<32" : v),
          },
        },
        y: { type: "category", display: false },
      },
    },
  });
}

section({ box: [66, 45, 357, 310], rows: sigmaJunRows, contours: sigmaJunContours, faint: sigmaJunFaint, labels: sigmaJunLabels, min: 21, max: 27, yTicks: sigmaTicks, yMinor: sigmaTicks, yTitle: "σ₀", showX: false, padL: 60 });
section({ box: [516, 45, 357, 310], rows: depthJunRows, contours: depthJunContours, labels: depthJunLabels, min: 0, max: 410, yTicks: depthTicks, yMinor: depthMinorTicks, yTitle: "Depth (m)", showX: false, padL: 66 });
section({ box: [66, 374, 357, 309], rows: sigmaDecRows, contours: sigmaDecContours, faint: sigmaDecFaint, labels: sigmaDecLabels, min: 21, max: 27, yTicks: sigmaTicks, yMinor: sigmaTicks, yTitle: "σ₀", showX: true, padL: 60 });
section({ box: [516, 374, 357, 309], rows: depthDecRows, contours: depthDecContours, labels: depthDecLabels, min: 0, max: 410, yTicks: depthTicks, yMinor: depthMinorTicks, yTitle: "Depth (m)", showX: true, padL: 66 });
tsPanel({ box: [997, 45, 310, 309], profiles: junProfiles, widths: junWidths, dashes: junDashes, strays: junStrays, showX: false });
tsPanel({ box: [997, 374, 310, 311], profiles: decProfiles, widths: decWidths, dashes: decDashes, strays: decStrays, showX: true });
colorBar();

// text that sits on top of the panels: text, x, y, css, rotation
const RED = "color:#e01f26;font-weight:700;font-size:21px;";
const WHITE = "color:#fff;font-weight:700;font-size:24px;";
const BLACK = "color:#000;font-weight:700;font-size:24px;";
const SMALL = "color:#333;font-size:10px;";
const TAG = "color:#000;font-weight:700;font-size:19px;";
const AXIS = "color:#111;font-size:18.5px;";
const notes = [
  ["a", 71, 21, "color:#000;font-weight:700;font-size:31px;"],
  ["b", 1001, 20, "color:#000;font-weight:700;font-size:31px;"],
  ["Jun-Aug", 131, 73, WHITE], ["Jun-Aug", 586, 73, WHITE],
  ["Dec-Feb", 129, 399, WHITE], ["Dec-Feb", 584, 400, WHITE],
  ["Jun-Aug", 1063, 336, BLACK], ["Dec-Feb", 1063, 662, BLACK],
  ["NORTH", 96, 735, TAG], ["SOUTH", 393, 735, TAG], ["NORTH", 547, 735, TAG], ["SOUTH", 844, 735, TAG],
  ["Latitude", 238, 733, AXIS], ["Latitude", 689, 733, AXIS],
  ["Salinity (psu)", 470, 759, AXIS],
  ["Northern BoB", 1079, 61, RED],
  ["Arabian Sea", 1335, 78, RED], ["S-max", 1332, 99, RED],
  ["Low salinity", 1217, 200, RED, 71], ["thermocline", 1192, 207, RED, 71.5],
  ["Cool, low salinity", 1079, 405, RED, -25], ["northern BoB", 1092, 427, RED, -25],
  ["Arabian Sea", 1333, 407, RED], ["S-max", 1334, 428, RED],
  ["Low salinity", 1227, 548, RED, 70], ["thermocline", 1202, 555, RED, 71],
  ["18", 1070, 37, SMALL, -30], ["19", 1129, 37, SMALL, -30], ["20", 1188, 36, SMALL, -30], ["21", 1248, 37, SMALL, -30], ["22", 1307, 37, SMALL, -30],
  ["σ₀", 1300, 52, SMALL],
  ["24", 1318, 118, SMALL, -30], ["25", 1318, 167, SMALL, -30], ["26", 1318, 220, SMALL, -30], ["27", 1318, 280, SMALL, -30],
  ["σ₀", 1300, 381, SMALL],
  ["24", 1317, 449, SMALL, -30], ["25", 1317, 497, SMALL, -30], ["26", 1317, 549, SMALL, -30], ["27", 1316, 610, SMALL, -30],
];
notes.forEach(([text, x, y, css, rot]) => {
  const d = document.createElement("div");
  d.className = "note";
  d.textContent = text;
  d.style.cssText = `left:${x}px;top:${y}px;${css}`;
  if (rot) d.style.transform = `translate(-50%, -50%) rotate(${rot}deg)`;
  document.body.appendChild(d);
});
</script>
</body>
</html>
